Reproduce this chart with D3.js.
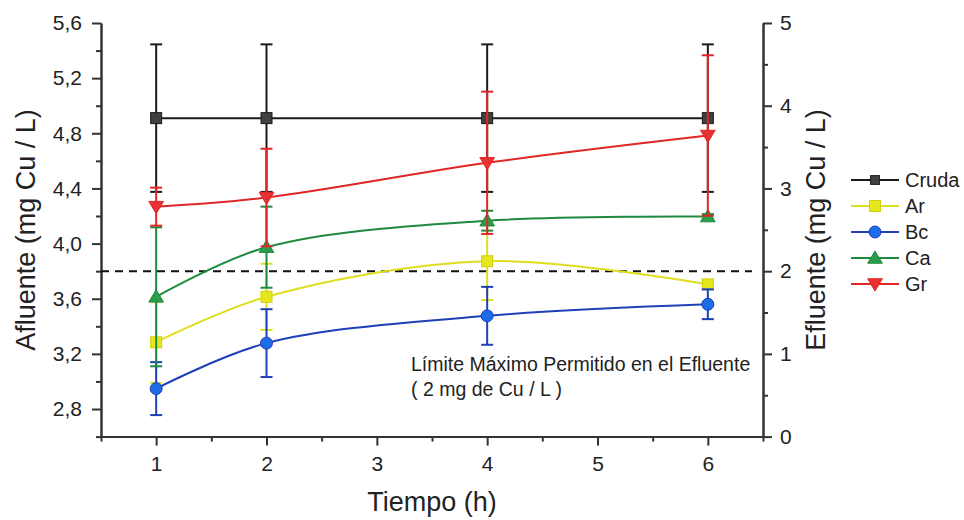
<!DOCTYPE html>
<html><head><meta charset="utf-8">
<script src="https://cdn.jsdelivr.net/npm/d3@7/dist/d3.min.js"></script>
<style>
body{margin:0;background:#fff;}
text{font-family:"Liberation Sans",Arial,sans-serif;fill:#222;}
</style></head>
<body><svg id="c" width="964" height="520"></svg>
<script>
// ---- data ----
const times = [1, 2, 4, 6];
const seriesNames = ["Cruda", "Ar", "Bc", "Ca", "Gr"];
const crudaVals = [4.91, 4.91, 4.91, 4.91];
const crudaErr  = [0.535, 0.535, 0.535, 0.535];
const arVals = [1.14, 1.69, 2.12, 1.84];
const arErr  = [0.49, 0.40, 0.47, 0.05];
const bcVals = [0.58, 1.13, 1.46, 1.60];
const bcErr  = [0.32, 0.41, 0.35, 0.18];
const caVals = [1.69, 2.29, 2.61, 2.66];
const caErr  = [0.84, 0.49, 0.12, 0.03];
const grVals = [2.78, 2.89, 3.31, 3.64];
const grErr  = [0.23, 0.59, 0.86, 0.97];
const limitValue = 2; // efluente limit
const xTicks = [1, 2, 3, 4, 5, 6];
const leftTicks = [2.8, 3.2, 3.6, 4.0, 4.4, 4.8, 5.2, 5.6];
const rightTicks = [0, 1, 2, 3, 4, 5];
const noteLines = ["Límite Máximo Permitido en el Efluente", "( 2 mg de Cu / L )"];

const svg = d3.select("#c");
const x = d3.scaleLinear([0.5, 6.5], [101, 763]);
const yL = d3.scaleLinear([2.6, 5.6], [436.6, 23]);
const yR = d3.scaleLinear([0, 5], [436.6, 23]);
const fmtL = v => d3.format(".1f")(v).replace(".", ",");
const spline = d3.curveCatmullRom.alpha(0.5);

const series = [
  {name:"Cruda", vals:crudaVals, err:crudaErr, y:yL, line:"#1a1a1a", stroke:"#1a1a1a", fill:"#404040", shape:"square", curve:d3.curveLinear},
  {name:"Ar", vals:arVals, err:arErr, y:yR, line:"#dede1e", stroke:"#d0d010", fill:"#e6e61c", shape:"square", curve:spline},
  {name:"Bc", vals:bcVals, err:bcErr, y:yR, line:"#1e40b8", stroke:"#1e40b8", fill:"#1c6ce6", shape:"circle", curve:spline},
  {name:"Ca", vals:caVals, err:caErr, y:yR, line:"#1e8a3e", stroke:"#1e8a3e", fill:"#2a9c4c", shape:"tri", curve:spline},
  {name:"Gr", vals:grVals, err:grErr, y:yR, line:"#e02626", stroke:"#e02626", fill:"#e83232", shape:"tridown", curve:spline}
];

// ---- axes ----
const axisColor = "#333";
function styleAxis(g){
  g.selectAll("path.domain").attr("stroke", axisColor).attr("stroke-width", 2);
  g.selectAll(".tick line").attr("stroke", axisColor).attr("stroke-width", 2);
  g.selectAll(".tick text").style("font-size","21px").style("font-family","'Liberation Sans',Arial,sans-serif").attr("fill","#222");
}
// bottom
const xMinor = d3.range(0.5, 6.51, 0.5).filter(v => !xTicks.includes(v));
svg.append("g").attr("transform","translate(0,436.6)")
  .call(d3.axisBottom(x).tickValues(xMinor).tickSize(5).tickSizeOuter(0).tickFormat(""))
  .call(styleAxis);
svg.append("g").attr("transform","translate(0,436.6)")
  .call(d3.axisBottom(x).tickValues(xTicks).tickSize(9).tickSizeOuter(0).tickPadding(10).tickFormat(d3.format("d")))
  .call(styleAxis);
// left
const lMinor = d3.range(0, 8).map(i => 2.6 + i * 0.4);
svg.append("g").attr("transform","translate(101,0)")
  .call(d3.axisLeft(yL).tickValues(lMinor).tickSize(5).tickSizeOuter(0).tickFormat(""))
  .call(styleAxis);
svg.append("g").attr("transform","translate(101,0)")
  .call(d3.axisLeft(yL).tickValues(leftTicks).tickSize(9).tickSizeOuter(0).tickPadding(10).tickFormat(fmtL))
  .call(styleAxis);
// right
const rMinor = [0.5, 1.5, 2.5, 3.5, 4.5];
svg.append("g").attr("transform","translate(763,0)")
  .call(d3.axisRight(yR).tickValues(rMinor).tickSize(5).tickSizeOuter(0).tickFormat(""))
  .call(styleAxis);
svg.append("g").attr("transform","translate(763,0)")
  .call(d3.axisRight(yR).tickValues(rightTicks).tickSize(9).tickSizeOuter(0).tickPadding(8).tickFormat(d3.format("d")))
  .call(styleAxis);

// axis titles
svg.append("text").attr("transform","translate(35,230) rotate(-90)").attr("text-anchor","middle")
  .style("font-size","27px").text("Afluente (mg Cu / L)");
svg.append("text").attr("transform","translate(825,230) rotate(-90)").attr("text-anchor","middle")
  .style("font-size","27px").text("Efluente (mg Cu / L)");
svg.append("text").attr("x", 432).attr("y", 511).attr("text-anchor","middle")
  .style("font-size","27px").text("Tiempo (h)");

// limit line
svg.append("line").attr("x1", x(0.5)).attr("x2", x(6.4))
  .attr("y1", yR(limitValue)).attr("y2", yR(limitValue))
  .attr("stroke","#111").attr("stroke-width",2).attr("stroke-dasharray","8,6");

// annotation
noteLines.forEach((t,i) => {
  svg.append("text").attr("x", 411).attr("y", 371 + i*25).style("font-size","19.5px").text(t);
});

// marker drawing
function marker(g, shape, cx, cy, fill, stroke, scale){
  const s = scale || 1;
  if (shape === "square") {
    g.append("rect").attr("x", cx-5.5*s).attr("y", cy-5.5*s).attr("width", 11*s).attr("height", 11*s)
      .attr("fill", fill).attr("stroke", stroke).attr("stroke-width", 1);
  } else if (shape === "circle") {
    g.append("circle").attr("cx", cx).attr("cy", cy).attr("r", 6*s).attr("fill", fill).attr("stroke", stroke).attr("stroke-width",1);
  } else if (shape === "tri") {
    const h = 7*s;
    g.append("path").attr("d", `M${cx},${cy-h}L${cx+h*1.05},${cy+h*0.75}L${cx-h*1.05},${cy+h*0.75}Z`)
      .attr("fill", fill).attr("stroke", stroke).attr("stroke-width",1);
  } else {
    const h = 7*s;
    g.append("path").attr("d", `M${cx},${cy+h}L${cx+h*1.05},${cy-h*0.75}L${cx-h*1.05},${cy-h*0.75}Z`)
      .attr("fill", fill).attr("stroke", stroke).attr("stroke-width",1);
  }
}

// series
series.forEach(s => {
  const g = svg.append("g");
  const pts = times.map((t,i) => [x(t), s.y(s.vals[i])]);
  g.append("path").attr("d", d3.line().curve(s.curve)(pts))
    .attr("fill","none").attr("stroke", s.line).attr("stroke-width", 2);
  times.forEach((t,i) => {
    const cx = x(t), top = s.y(s.vals[i] + s.err[i]), bot = s.y(s.vals[i] - s.err[i]);
    g.append("line").attr("x1",cx).attr("x2",cx).attr("y1",top).attr("y2",bot).attr("stroke", s.line).attr("stroke-width",2);
    [top, bot].forEach(yy => g.append("line").attr("x1",cx-6).attr("x2",cx+6).attr("y1",yy).attr("y2",yy)
      .attr("stroke", s.line).attr("stroke-width",2));
  });
  times.forEach((t,i) => marker(g, s.shape, x(t), s.y(s.vals[i]), s.fill, s.stroke));
});

// legend
series.forEach((s,i) => {
  const ly = 180 + i*26;
  const g = svg.append("g");
  g.append("line").attr("x1", 851).attr("x2", 899).attr("y1", ly).attr("y2", ly).attr("stroke", s.line).attr("stroke-width", 2);
  marker(g, s.shape, 875, ly, s.fill, s.stroke, s.name === "Cruda" ? 0.8 : 1);
  g.append("text").attr("x", 905).attr("y", ly + 7).style("font-size","20px").text(s.name);
});
</script></body></html>
